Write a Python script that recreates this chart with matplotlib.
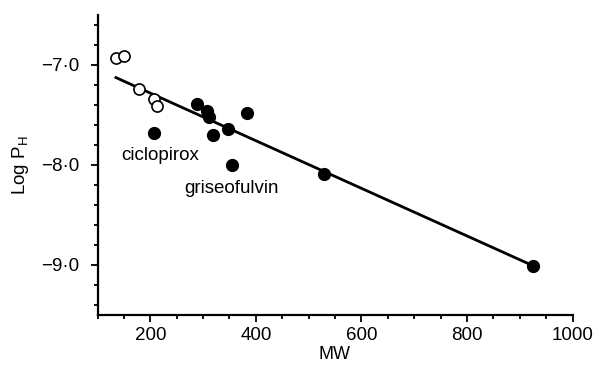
import numpy as np
import matplotlib
matplotlib.use('Agg')
import matplotlib.pyplot as plt
from matplotlib.ticker import MultipleLocator, FixedLocator

plt.rcParams['font.family'] = ['Liberation Sans', 'DejaVu Sans']

# open circles
mw_open = [135, 151, 179, 207, 213]
logp_open = [-6.93, -6.91, -7.24, -7.34, -7.41]

# filled circles
mw_filled = [207, 288, 308, 312, 318, 347, 383, 354, 530, 926]
logp_filled = [-7.68, -7.39, -7.46, -7.52, -7.70, -7.64, -7.48, -8.00, -8.09, -9.01]

# regression line
line_mw = [135, 926]
line_logp = [-7.13, -9.01]

xticks = [200, 400, 600, 800, 1000]
yticks = [-7.0, -8.0, -9.0]
ytick_labels = ['\u22127\u00b70', '\u22128\u00b70', '\u22129\u00b70']

fig = plt.figure(figsize=(6.02, 3.69), dpi=100)
ax = fig.add_axes([97.5/602, 1-315/369, 475/602, 300.5/369])

ax.plot(line_mw, line_logp, color='black', lw=2, zorder=2)
ax.plot(mw_open, logp_open, 'o', ms=8, mfc='white', mec='black', mew=1.2, zorder=3)
ax.plot(mw_filled, logp_filled, 'o', ms=8.5, mfc='black', mec='black', zorder=3)

ax.text(218, -7.905, 'ciclopirox', fontsize=13.5, ha='center', va='center')
ax.text(354, -8.235, 'griseofulvin', fontsize=13.5, ha='center', va='center')

ax.set_xlim(100, 1000)
ax.set_ylim(-9.5, -6.5)
ax.xaxis.set_major_locator(FixedLocator(xticks))
ax.xaxis.set_minor_locator(MultipleLocator(50))
ax.set_yticks(yticks)
ax.set_yticklabels(ytick_labels)
ax.yaxis.set_minor_locator(MultipleLocator(0.2))

ax.tick_params(which='major', direction='out', length=5, width=1.3, labelsize=13.5)
ax.tick_params(axis='y', which='major', pad=8)
ax.tick_params(axis='x', which='major', pad=4)
ax.tick_params(which='minor', direction='out', length=3, width=1.3)

for s in ['top', 'right']:
    ax.spines[s].set_visible(False)
for s in ['left', 'bottom']:
    ax.spines[s].set_linewidth(1.6)

ax.set_xlabel('MW', fontsize=13, labelpad=1)
ax.set_ylabel('Log P$_\\mathregular{H}$', fontsize=13.5, labelpad=7)

fig.savefig('out.png', dpi=100)
